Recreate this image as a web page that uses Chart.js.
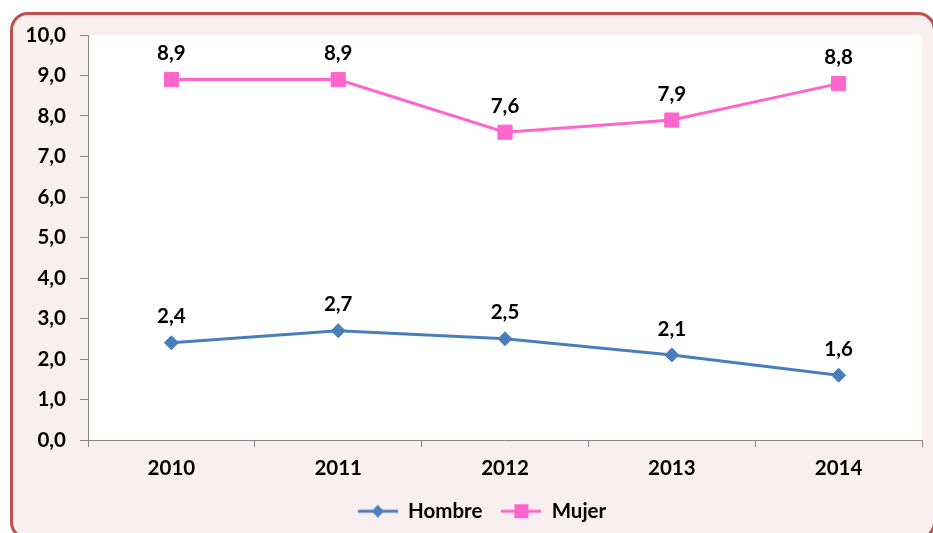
<!DOCTYPE html>
<html><head><meta charset="utf-8">
<script src="https://cdn.jsdelivr.net/npm/chart.js@4"></script>
<style>
html,body{margin:0;padding:0;background:#fff;}
#wrap{position:relative;width:933px;height:533px;overflow:hidden;}
#frame{position:absolute;left:10px;top:12px;width:926px;height:528px;box-sizing:border-box;border:3px solid #c0504d;border-radius:18px;background:#f9eff1;}
canvas{position:absolute;left:0;top:0;}
</style></head><body>
<div id="wrap"><div id="frame"></div><canvas id="c" width="933" height="533"></canvas></div>
<script>
const categories = ['2010', '2011', '2012', '2013', '2014'];
const hombre = [2.4, 2.7, 2.5, 2.1, 1.6];
const mujer = [8.9, 8.9, 7.6, 7.9, 8.8];
const seriesNames = ['Hombre', 'Mujer'];
const yTicks = [0, 1, 2, 3, 4, 5, 6, 7, 8, 9, 10];

const BLUE = '#4a7ebb';
const PINK = '#ff66cc';
const FONT = {family: 'Lato, "Open Sans", sans-serif', size: 20.5, weight: 'bold'};
const fmt = v => v.toFixed(1).replace('.', ',');

function legendImg(color, style) {
  const c = document.createElement('canvas');
  c.width = 40; c.height = 16;
  const g = c.getContext('2d');
  g.strokeStyle = color; g.lineWidth = 3;
  g.beginPath(); g.moveTo(0, 8); g.lineTo(40, 8); g.stroke();
  g.fillStyle = color;
  if (style === 'diamond') {
    g.beginPath(); g.moveTo(20, 1.5); g.lineTo(26, 8); g.lineTo(20, 14.5); g.lineTo(14, 8); g.closePath(); g.fill();
  } else {
    g.fillRect(13, 1, 14, 14);
  }
  return c;
}
const legendImgs = [legendImg(BLUE, 'diamond'), legendImg(PINK, 'square')];

const plotBg = {
  id: 'plotBg',
  afterLayout(chart) {
    // the original legend sits slightly right of centre
    if (chart.legend) { chart.legend.left += 19; chart.legend.right += 19; }
  },
  beforeDraw(chart) {
    const {ctx, chartArea: a} = chart;
    ctx.save(); ctx.fillStyle = '#ffffff';
    ctx.fillRect(a.left, a.top, a.right - a.left, a.bottom - a.top);
    ctx.restore();
  }
};
const dataLabels = {
  id: 'dataLabels',
  afterDatasetsDraw(chart) {
    const {ctx} = chart;
    ctx.save();
    ctx.font = `bold ${FONT.size}px ${FONT.family}`;
    ctx.fillStyle = '#000';
    ctx.textAlign = 'center'; ctx.textBaseline = 'middle';
    chart.data.datasets.forEach((ds, i) => {
      chart.getDatasetMeta(i).data.forEach((pt, j) => {
        ctx.fillText(fmt(ds.data[j]), pt.x, pt.y - 26);
      });
    });
    ctx.restore();
  }
};

new Chart(document.getElementById('c'), {
  type: 'line',
  data: {
    labels: categories,
    datasets: [
      {label: seriesNames[0], data: hombre, borderColor: BLUE, backgroundColor: BLUE, borderWidth: 3,
       pointStyle: 'rectRot', pointRadius: 7, pointHoverRadius: 7, pointBorderWidth: 1, tension: 0},
      {label: seriesNames[1], data: mujer, borderColor: PINK, backgroundColor: PINK, borderWidth: 3,
       pointStyle: 'rect', pointRadius: 10, pointHoverRadius: 10, pointBorderWidth: 1, tension: 0}
    ]
  },
  options: {
    responsive: false,
    animation: false,
    layout: {padding: {top: 35, right: 7, left: 0, bottom: 1.5}},
    scales: {
      x: {
        offset: true,
        grid: {offset: true, drawOnChartArea: false, drawTicks: true, tickLength: 7, color: '#868686'},
        border: {color: '#868686', width: 1},
        ticks: {font: FONT, color: '#000', padding: 9},
        afterFit: s => { s.height = 42; }
      },
      y: {
        min: 0, max: 10,
        afterBuildTicks: s => { s.ticks = yTicks.map(v => ({value: v})); },
        grid: {drawOnChartArea: false, drawTicks: true, tickLength: 8, color: '#868686'},
        border: {color: '#868686', width: 1},
        ticks: {font: FONT, color: '#000', padding: 14, callback: v => fmt(v)},
        afterFit: s => { s.width = 88; }
      }
    },
    plugins: {
      tooltip: {enabled: false},
      legend: {
        position: 'bottom',
        labels: {
          usePointStyle: true, pointStyleWidth: 40, padding: 19, font: FONT, color: '#000',
          generateLabels: chart => chart.data.datasets.map((ds, i) => ({
            text: ds.label, pointStyle: legendImgs[i], fillStyle: ds.borderColor,
            strokeStyle: ds.borderColor, lineWidth: 0, hidden: false, datasetIndex: i, fontColor: '#000'
          }))
        }
      }
    }
  },
  plugins: [plotBg, dataLabels]
});
</script>
</body></html>
